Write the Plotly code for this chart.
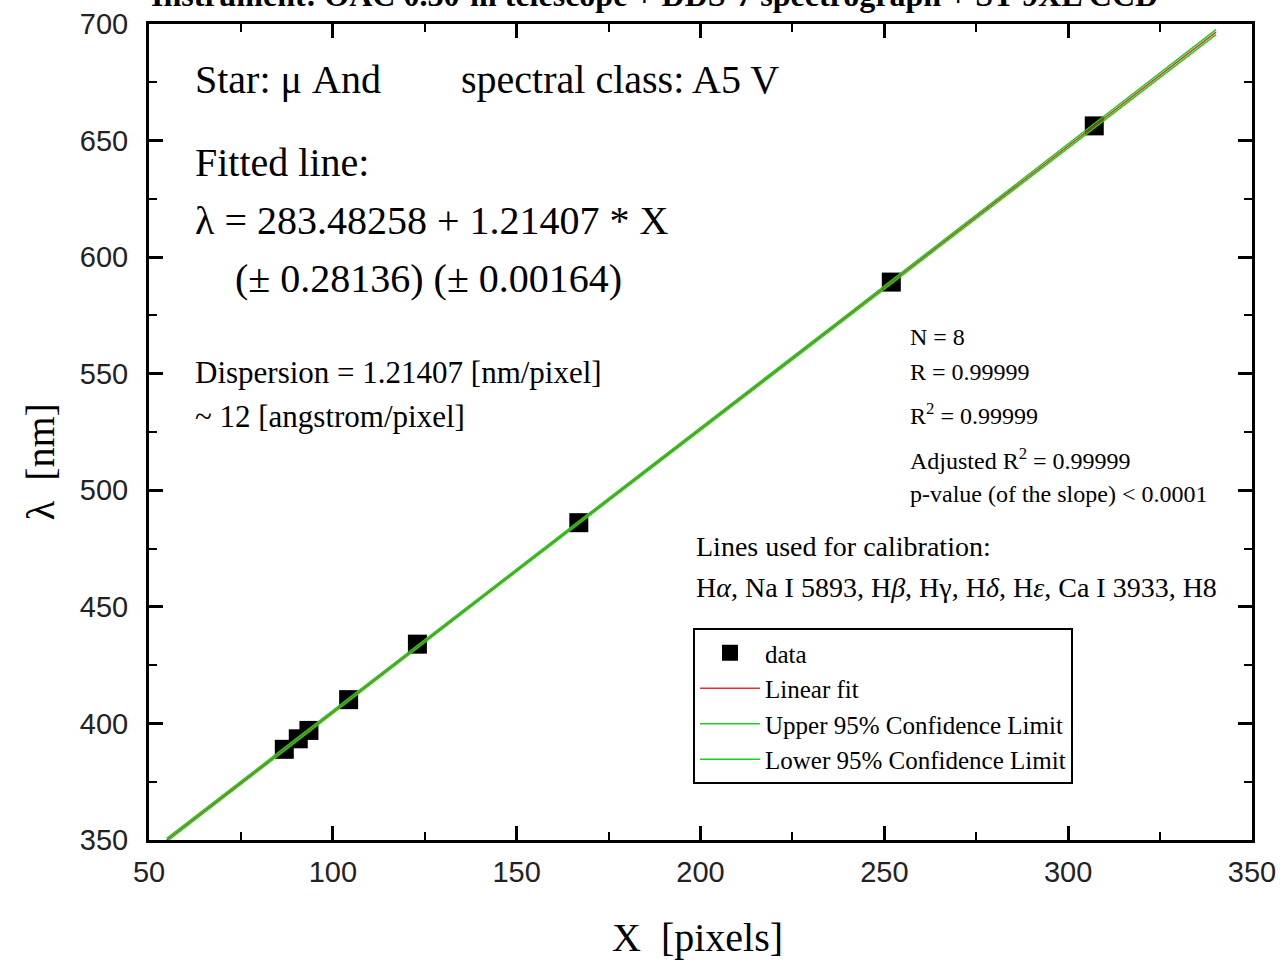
import numpy as np
import plotly.graph_objects as go

# Calibration lines: pixel position X and wavelength (nm)
line_names = ["Hα", "Na I 5893", "Hβ", "Hγ", "Hδ", "Hε", "Ca I 3933", "H8"]
x_pix = [307.1, 251.9, 166.9, 123.0, 104.3, 93.5, 90.6, 86.8]
lam_nm = [656.3, 589.3, 486.1, 434.0, 410.2, 397.0, 393.4, 388.9]

# Fitted coefficients (from the chart text)
intercept = 283.48258
slope = 1.21407
fit_x_range = [54.8, 340.2]

x_ticks = [50, 100, 150, 200, 250, 300, 350]
y_ticks = [350, 400, 450, 500, 550, 600, 650, 700]

# fit line and 95% confidence limits
xs = np.linspace(fit_x_range[0], fit_x_range[1], 200)
yfit = intercept + slope * xs
xa = np.array(x_pix)
ya = np.array(lam_nm)
n = len(xa)
res = ya - (intercept + slope * xa)
s = np.sqrt(np.sum(res ** 2) / (n - 2))
sxx = np.sum((xa - xa.mean()) ** 2)
tval = 2.447
band = tval * s * np.sqrt(1.0 / n + (xs - xa.mean()) ** 2 / sxx)

SERIF = "Liberation Serif, Times New Roman, serif"
SANS = "Liberation Sans, Arial, sans-serif"

fig = go.Figure()
fig.add_trace(go.Scatter(x=xa, y=ya, mode="markers", name="data",
                         marker=dict(symbol="square", size=19, color="black")))
fig.add_trace(go.Scatter(x=xs, y=yfit, mode="lines", name="Linear fit",
                         line=dict(color="#d9342b", width=1.5)))
fig.add_trace(go.Scatter(x=xs, y=yfit + band, mode="lines", name="Upper 95% Confidence Limit",
                         line=dict(color="#19d219", width=1.5)))
fig.add_trace(go.Scatter(x=xs, y=yfit - band, mode="lines", name="Lower 95% Confidence Limit",
                         line=dict(color="#19d219", width=1.5)))

axis_common = dict(showline=True, linecolor="black", linewidth=3, mirror="ticks",
                   ticks="inside", ticklen=14, tickwidth=2.5, tickcolor="black",
                   showgrid=False, zeroline=False, automargin=False,
                   tickfont=dict(family=SANS, size=29, color="#222"),
                   minor=dict(ticks="inside", ticklen=8, tickwidth=2, tickcolor="black"))

fig.update_xaxes(range=[50, 350], tickvals=x_ticks, ticklabelstandoff=4, **axis_common)
fig.update_yaxes(range=[350, 700], tickvals=y_ticks, ticklabelstandoff=12, **axis_common)
fig.update_xaxes(minor=dict(tickvals=[75, 125, 175, 225, 275, 325]))
fig.update_yaxes(minor=dict(tickvals=[375, 425, 475, 525, 575, 625, 675]))

ann = []
def txt(x, y, t, size, xref="x", yref="y"):
    ann.append(dict(x=x, y=y, xref=xref, yref=yref, text=t, showarrow=False,
                    xanchor="left", yanchor="middle", align="left",
                    font=dict(family=SERIF, size=size, color="black")))

txt(62.0, 676, "Star: μ And", 40)
txt(134.2, 676, "spectral class: A5 V", 40)
txt(62.0, 640.4, "Fitted line:", 40)
txt(62.0, 615.9, "λ = 283.48258 + 1.21407 * X", 40)
txt(72.8, 591.0, "(± 0.28136) (± 0.00164)", 40)
txt(62.0, 550.7, "Dispersion = 1.21407 [nm/pixel]", 31)
txt(62.0, 531.8, "~ 12 [angstrom/pixel]", 31)
txt(256.4, 565.7, "N = 8", 24)
txt(256.4, 550.7, "R = 0.99999", 24)
txt(256.4, 532.7, "R<sup>2</sup> = 0.99999", 24)
txt(256.4, 513.4, "Adjusted R<sup>2</sup> = 0.99999", 24)
txt(256.4, 498.4, "p-value (of the slope) < 0.0001", 24)
txt(198.2, 476.1, "Lines used for calibration:", 28)
txt(198.2, 458.5, "H<i>α</i>, Na I 5893, H<i>β</i>, Hγ, H<i>δ</i>, H<i>ε</i>, Ca I 3933, H8", 28)

# axis titles
ann.append(dict(x=0.4977, y=-0.1189, xref="paper", yref="paper", xanchor="center", yanchor="middle",
                text="X&nbsp;&nbsp;[pixels]", showarrow=False,
                font=dict(family=SERIF, size=40, color="black")))
ann.append(dict(x=-0.0988, y=0.463, xref="paper", yref="paper", xanchor="center", yanchor="middle",
                text="λ&nbsp;&nbsp;[nm]", showarrow=False, textangle=-90,
                font=dict(family=SERIF, size=40, color="black")))

# header (partly cut off at the top edge, as in the reference)
ann.append(dict(x=0.0, y=1.036, xref="paper", yref="paper", xanchor="left", yanchor="middle",
                text="<b>Instrument: OAC 0.30-m telescope + DDS-7 spectrograph + ST-9XL CCD</b>",
                showarrow=False, font=dict(family=SERIF, size=32, color="black")))

fig.update_layout(
    width=1283, height=962,
    margin=dict(l=149, r=31, t=24, b=122, autoexpand=False),
    paper_bgcolor="white", plot_bgcolor="white",
    annotations=ann,
    showlegend=True,
    legend=dict(x=0.4932, y=0.2598, xanchor="left", yanchor="top",
                bgcolor="white", bordercolor="black", borderwidth=2,
                font=dict(family=SERIF, size=25, color="black"),
                itemwidth=60, tracegroupgap=0),
)

fig.write_html("out.html", config={"displayModeBar": False},
               post_script="document.body.style.margin='0';document.body.style.overflow='hidden';")
